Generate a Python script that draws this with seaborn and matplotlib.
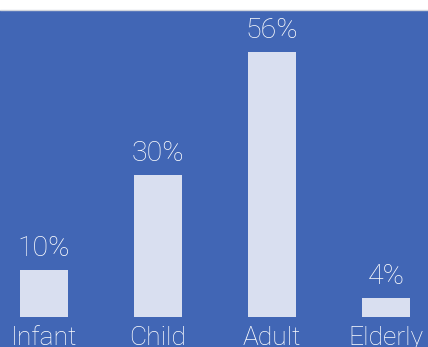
import matplotlib
matplotlib.use("Agg")
import matplotlib.pyplot as plt
from matplotlib.patches import Rectangle
from matplotlib.lines import Line2D
import pandas as pd
import seaborn as sns

groups = ["Infant", "Child", "Adult", "Elderly"]
shares = [10, 30, 56, 4]
value_labels = ["10%", "30%", "56%", "4%"]

bg = "#4166B5"
bar_color = "#D9DFF0"

sns.set_style("white")
plt.rcParams["font.family"] = ["Roboto", "DejaVu Sans"]

df = pd.DataFrame({"group": groups, "share": shares})

fig = plt.figure(figsize=(4.28, 3.47), dpi=100, facecolor=bg)
# white strip along the top
fig.patches.append(Rectangle((0, 337 / 347), 1, 10 / 347, transform=fig.transFigure,
                             facecolor="white", edgecolor="none", zorder=0))
fig.lines.append(Line2D([0, 1], [337 / 347, 337 / 347], transform=fig.transFigure,
                        color="#d0d4dc", lw=1))

ax = fig.add_axes([0, 30 / 347, 1, 307 / 347])
ax.set_facecolor(bg)
sns.barplot(df, x="group", y="share", color=bar_color, width=0.42,
            saturation=1, linewidth=0, edgecolor="none", ax=ax)

ax.set_xlim(-44 / 114, 384 / 114)
ax.set_ylim(0, 307 / 4.73)
ax.set_xlabel("")
ax.set_ylabel("")
ax.set_yticks([])
ax.tick_params(axis="x", length=0, pad=20, labelsize=19, labelcolor="white")
for t in ax.get_xticklabels():
    t.set_fontweight("light")
    t.set_va("baseline")
sns.despine(ax=ax, left=True, bottom=True)

for i, (v, lab) in enumerate(zip(shares, value_labels)):
    ax.annotate(lab, (i, v), xytext=(0, 10), textcoords="offset points",
                ha="center", va="baseline", fontsize=20.5, color="white",
                fontweight="light")

fig.savefig("out.png", dpi=100, facecolor=bg)
